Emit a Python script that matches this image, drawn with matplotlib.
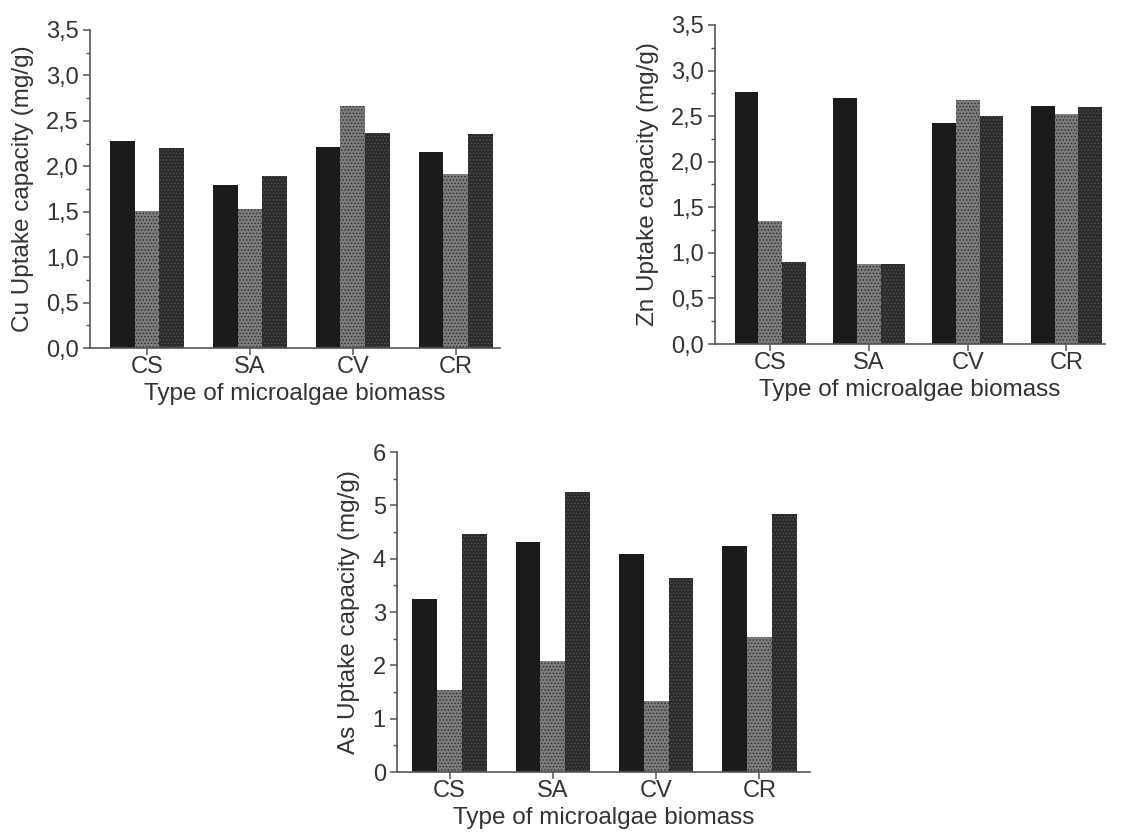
import numpy as np
import matplotlib
matplotlib.use("Agg")
import matplotlib.pyplot as plt
from matplotlib.ticker import FuncFormatter, MultipleLocator

plt.rcParams['font.family'] = ['Liberation Sans', 'DejaVu Sans']
plt.rcParams['hatch.linewidth'] = 0.6

biomass = ['CS', 'SA', 'CV', 'CR']

# uptake capacity (mg/g), three treatments per biomass type
cu_a = [2.28, 1.79, 2.21, 2.16]
cu_b = [1.51, 1.53, 2.66, 1.92]
cu_c = [2.20, 1.89, 2.37, 2.35]

zn_a = [2.76, 2.70, 2.43, 2.61]
zn_b = [1.35, 0.88, 2.68, 2.52]
zn_c = [0.90, 0.88, 2.50, 2.60]

as_a = [3.25, 4.31, 4.08, 4.23]
as_b = [1.53, 2.09, 1.33, 2.54]
as_c = [4.47, 5.25, 3.64, 4.84]

TXT = '#333333'


def draw_panel(rect, series, ylabel, ymax, major, minor, xlim, comma):
    ax = fig.add_axes(rect)
    x = np.arange(len(biomass))
    w = 0.24
    styles = [
        dict(color='#1c1a1b', edgecolor='#1c1a1b'),
        dict(color='#7c7c7c', edgecolor='#2a2a2a', hatch='.....'),
        dict(color='#2c2a2b', edgecolor='#555555', hatch='.....'),
    ]
    for i, (vals, st) in enumerate(zip(series, styles)):
        ax.bar(x + (i - 1) * w, vals, w, linewidth=0, **st)
    ax.set_xlim(*xlim)
    ax.set_ylim(0, ymax)
    ax.set_xticks(x)
    ax.set_xticklabels(biomass)
    ax.yaxis.set_major_locator(MultipleLocator(major))
    ax.yaxis.set_minor_locator(MultipleLocator(minor))
    if comma:
        ax.yaxis.set_major_formatter(FuncFormatter(lambda v, p: f'{v:.1f}'.replace('.', ',')))
    else:
        ax.yaxis.set_major_formatter(FuncFormatter(lambda v, p: f'{v:.0f}'))
    for s in ('top', 'right'):
        ax.spines[s].set_visible(False)
    for s in ('left', 'bottom'):
        ax.spines[s].set_color('#555555')
        ax.spines[s].set_linewidth(1.2)
    ax.tick_params(axis='both', which='major', labelsize=17, colors='#555555',
                   labelcolor=TXT, length=5, width=1.1, pad=3)
    ax.tick_params(axis='y', which='minor', length=3, width=1, colors='#555555')
    ax.tick_params(axis='x', pad=1)
    ax.set_ylabel(ylabel, fontsize=17.5, color=TXT, labelpad=9)
    ax.set_xlabel('Type of microalgae biomass', fontsize=17.5, color=TXT, labelpad=3)
    return ax


fig = plt.figure(figsize=(11.21, 8.32), dpi=100)

draw_panel([0.0803, 0.5817, 0.3657, 0.3823], [cu_a, cu_b, cu_c],
           'Cu Uptake capacity (mg/g)', 3.5, 0.5, 0.25, (-0.553, 3.43), True)
draw_panel([0.6378, 0.5865, 0.3479, 0.3835], [zn_a, zn_b, zn_c],
           'Zn Uptake capacity (mg/g)', 3.5, 0.5, 0.25, (-0.56, 3.39), True)
draw_panel([0.3541, 0.0721, 0.3685, 0.3846], [as_a, as_b, as_c],
           'As Uptake capacity (mg/g)', 6, 1, 0.5, (-0.51, 3.49), False)

fig.savefig('out.png', dpi=100)
